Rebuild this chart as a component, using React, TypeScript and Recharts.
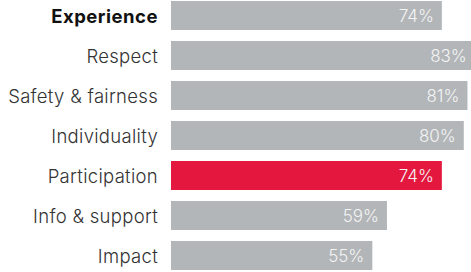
import React from 'react';
import { BarChart, Bar, XAxis, YAxis, Cell, LabelList } from 'recharts';

const categories = ['Experience', 'Respect', 'Safety & fairness', 'Individuality', 'Participation', 'Info & support', 'Impact'];
const scores = [74, 83, 81, 80, 74, 59, 55];
const highlight = 'Participation';

const data = categories.map((name, i) => ({ name, value: scores[i] }));

const FONT = 'Inter, "Noto Sans", sans-serif';

const CategoryTick = (props: any) => {
  const { x, y, payload } = props;
  const first = payload.value === categories[0];
  return (
    <text
      x={x}
      y={y}
      dy="0.44em"
      textAnchor="end"
      fontFamily={FONT}
      fontSize={18.5}
      letterSpacing={first ? 0.5 : 0.3}
      fontWeight={first ? 700 : 300}
      fill={first ? '#111' : '#333'}
    >
      {payload.value}
    </text>
  );
};

const App = () => {
  return (
    <div style={{ position: 'absolute', left: 0, top: 0, width: 471, height: 272, overflow: 'hidden', background: '#fff' }}>
      <div style={{ position: 'absolute', left: 0, top: -5 }}>
        <BarChart
          width={537}
          height={280}
          data={data}
          layout="vertical"
          margin={{ top: 0, right: 0, bottom: 0, left: 0 }}
          barSize={29}
        >
          <XAxis type="number" domain={[0, 100]} hide />
          <YAxis
            type="category"
            dataKey="name"
            width={171}
            axisLine={false}
            tickLine={false}
            tickSize={0}
            tickMargin={13}
            tick={<CategoryTick />}
            interval={0}
          />
          <Bar dataKey="value" isAnimationActive={false}>
            {data.map((d) => (
              <Cell key={d.name} fill={d.name === highlight ? '#e4173f' : '#b2b6b9'} />
            ))}
            <LabelList
              dataKey="value"
              position="insideRight"
              offset={8}
              formatter={(v: any) => `${v}%`}
              fill="#f4f4f4"
              fontFamily={FONT}
              fontSize={17}
              fontWeight={300}
            />
          </Bar>
        </BarChart>
      </div>
    </div>
  );
};

export default App;
